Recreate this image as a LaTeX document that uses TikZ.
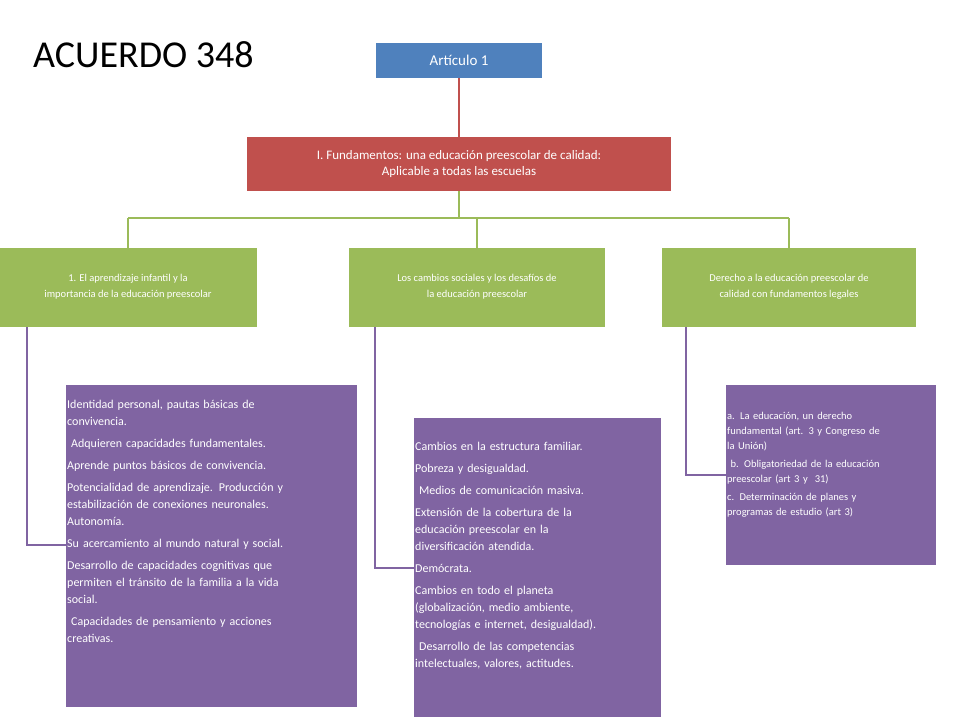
\documentclass[tikz,border=0pt]{standalone}
\usepackage{fontspec}
\setmainfont{Carlito}
\begin{document}
\begin{tikzpicture}[x=1pt,y=-1pt,
 box/.style={inner sep=0pt,align=center,text=white,font=\fontsize{12}{14}\selectfont},
 ptext/.style={anchor=north west,inner sep=0pt,align=left,text=white,font=\fontsize{12}{17}\selectfont},
 gline/.style={draw=green!40!black!60!yellow,line width=2pt},
]
\definecolor{cblue}{HTML}{4F81BD}\definecolor{cred}{HTML}{C0504D}
\definecolor{cgreen}{HTML}{9BBB59}\definecolor{cpurple}{HTML}{8064A2}
\useasboundingbox (0,0) rectangle (960,720);
\node[anchor=west,inner sep=0pt,font=\fontsize{38}{44}\selectfont] (title) at (33,55) {ACUERDO 348};
\fill[cblue] (376,43) rectangle (542,78);
\node[box,font=\fontsize{15}{18}\selectfont] (art) at (459,60.5) {Artículo 1};
\coordinate (artb) at (459,78);
\fill[cred] (247,137) rectangle (671,191);
\node[box,font=\fontsize{13}{16}\selectfont] (fund) at (459,164) {I. Fundamentos: una educación preescolar de calidad:\\Aplicable a todas las escuelas};
\draw[cred,line width=2pt] (artb) -- (459,137);
\draw[cgreen,line width=2pt] (459,191) -- (459,218) (128,218) -- (789,218)
 (128,218)--(128,248) (477,218)--(477,248) (789,218)--(789,248);
\fill[cgreen] (0,248) rectangle (257,327);
\fill[cgreen] (349,248) rectangle (605,327);
\fill[cgreen] (662,248) rectangle (916,327);
\node[box,font=\fontsize{10.5}{16}\selectfont] (g1) at (128,287) {1. El aprendizaje infantil y la\\importancia de la educación preescolar};
\node[box,font=\fontsize{10.5}{16}\selectfont] (g2) at (477,287) {Los cambios sociales y los desafíos de\\la educación preescolar};
\node[box,font=\fontsize{10.5}{16}\selectfont] (g3) at (789,287) {Derecho a la educación preescolar de\\calidad con fundamentos legales};
\fill[cpurple] (66,385) rectangle (357,707);
\fill[cpurple] (414,418) rectangle (661,717);
\fill[cpurple] (726,385) rectangle (936,565);
\draw[cpurple,line width=2pt] (27,327) -- (27,545) -- (66,545);
\draw[cpurple,line width=2pt] (375,327) -- (375,568) -- (414,568);
\draw[cpurple,line width=2pt] (686,327) -- (686,475) -- (726,475);
\node[ptext,text width=285pt] (p1) at (67,400) {Identidad personal, pautas básicas de\\convivencia.\\[5pt]
 \ Adquieren capacidades fundamentales.\\[5pt]
 Aprende puntos básicos de convivencia.\\[5pt]
 Potencialidad de aprendizaje. Producción y\\estabilización de conexiones neuronales.\\Autonomía.\\[5pt]
 Su acercamiento al mundo natural y social.\\[5pt]
 Desarrollo de capacidades cognitivas que\\permiten el tránsito de la familia a la vida\\social.\\[5pt]
 \ Capacidades de pensamiento y acciones\\creativas.};
\node[ptext,text width=245pt] (p2) at (415,442) {Cambios en la estructura familiar.\\[5pt]
 Pobreza y desigualdad.\\[5pt]
 \ Medios de comunicación masiva.\\[5pt]
 Extensión de la cobertura de la\\educación preescolar en la\\diversificación atendida.\\[5pt]
 Demócrata.\\[5pt]
 Cambios en todo el planeta\\(globalización, medio ambiente,\\tecnologías e internet, desigualdad).\\[5pt]
 \ Desarrollo de las competencias\\intelectuales, valores, actitudes.};
\node[ptext,text width=208pt,font=\fontsize{10.5}{15}\selectfont] (p3) at (727,412) {a. La educación, un derecho\\fundamental (art. 3 y Congreso de\\la Unión)\\[3pt]
 \ b. Obligatoriedad de la educación\\preescolar (art 3 y \ 31)\\[3pt]
 c. Determinación de planes y\\programas de estudio (art 3)};
\end{tikzpicture}
\end{document}
